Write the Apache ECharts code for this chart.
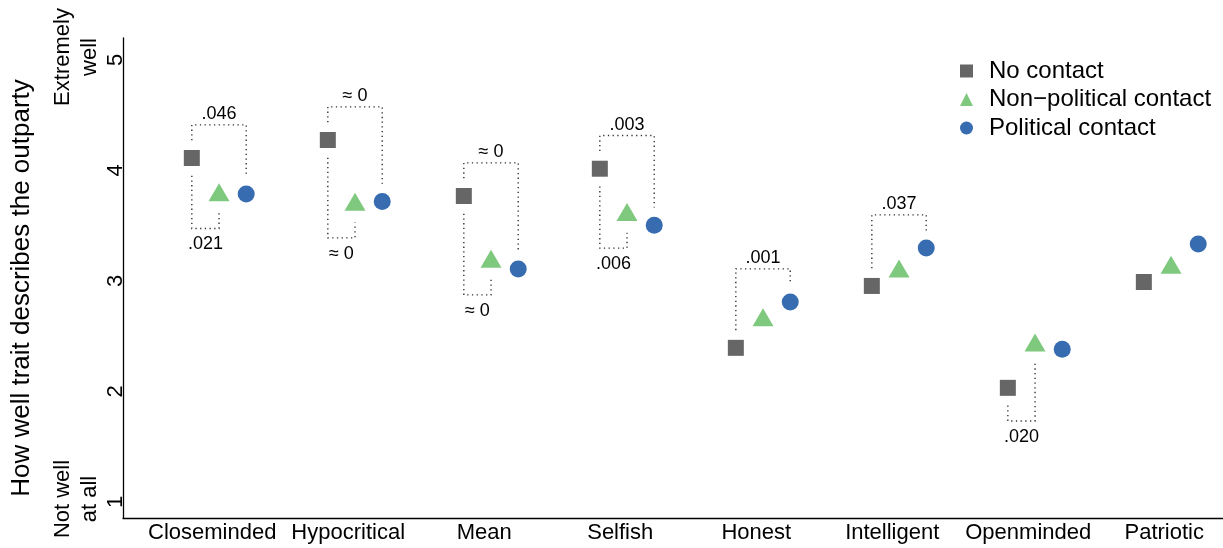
<!DOCTYPE html>
<html>
<head>
<meta charset="utf-8">
<script src="https://cdn.jsdelivr.net/npm/echarts@6/dist/echarts.min.js"></script>
<style>
  html, body { margin: 0; padding: 0; background: #ffffff; }
  #chart { width: 1223px; height: 548px; }
</style>
</head>
<body>
<div id="chart"></div>
<script>
// Mean rating of how well each trait describes the outparty, by contact condition
const traits = ['Closeminded', 'Hypocritical', 'Mean', 'Selfish', 'Honest', 'Intelligent', 'Openminded', 'Patriotic'];
const noContact    = [4.086, 4.249, 3.742, 3.989, 2.368, 2.928, 2.006, 2.964];
const nonPolitical = [3.748, 3.663, 3.147, 3.570, 2.617, 3.058, 2.388, 3.092];
const political    = [3.760, 3.692, 3.081, 3.477, 2.783, 3.271, 2.355, 3.308];
const groupNames = ['No contact', 'Non\u2212political contact', 'Political contact'];
const yTicks = [1, 2, 3, 4, 5];
const yEndTicks = [1, 5];
const yEndText = ['Not well\nat all', 'Extremely\nwell'];

// Tests against "No contact": [trait index, compared group (1 = non-political, 2 = political), side (1 above, -1 below), p-value]
const comparisons = [
  [0, 2,  1, '.046'],
  [0, 1, -1, '.021'],
  [1, 2,  1, '\u2248 0'],
  [1, 1, -1, '\u2248 0'],
  [2, 2,  1, '\u2248 0'],
  [2, 1, -1, '\u2248 0'],
  [3, 2,  1, '.003'],
  [3, 1, -1, '.006'],
  [4, 2,  1, '.001'],
  [5, 2,  1, '.037'],
  [6, 1, -1, '.020']
];

const groups = [noContact, nonPolitical, political];
const groupShift = [-0.15, 0.05, 0.25];   // horizontal dodge within a trait
const FONT = '"Liberation Sans", Arial, Helvetica, sans-serif';
const colors = ['#666666', '#7FC97F', '#386CB0'];
const symbols = ['rect', 'triangle', 'circle'];
const symbolSizes = [16, [21, 18], 17];
const symbolOffsets = [[0, 0], [0, -3], [0, 0]];

function groupPoints(g) {
  return groups[g].map((v, i) => [i + 1 + groupShift[g], v]);
}

// bracket geometry: x of the two points, end values, bracket level, direction
const bracketLift = 0.3, bracketGap = 0.16;
const bracketData = comparisons.map(([i, g, dir]) => {
  const v0 = noContact[i], v1 = groups[g][i];
  const level = dir > 0 ? Math.max(v0, v1) + bracketLift : Math.min(v0, v1) - bracketLift;
  return [i + 1 + groupShift[0], i + 1 + groupShift[g], v0 + dir * bracketGap, v1 + dir * bracketGap, level, dir];
});

const chart = echarts.init(document.getElementById('chart'), null, { renderer: 'canvas' });

const scatterSeries = groupNames.map((name, g) => ({
  name: name,
  type: 'scatter',
  data: groupPoints(g),
  symbol: symbols[g],
  symbolSize: symbolSizes[g],
  symbolOffset: symbolOffsets[g],
  itemStyle: { color: colors[g], opacity: 1 },
  emphasis: { disabled: true },
  z: 3
}));

const bracketSeries = {
  type: 'custom',
  data: bracketData,
  encode: { x: [0, 1], y: [2, 3, 4] },
  silent: true,
  z: 2,
  renderItem: function (params, api) {
    const x0 = api.value(0), x1 = api.value(1);
    const e0 = api.value(2), e1 = api.value(3), lev = api.value(4), dir = api.value(5);
    const a = api.coord([x0, e0]);
    const b = api.coord([x0, lev]);
    const c = api.coord([x1, lev]);
    const d = api.coord([x1, e1]);
    return {
      type: 'group',
      children: [
        {
          type: 'polyline',
          shape: { points: [a, b, c, d] },
          style: { stroke: '#333333', lineWidth: 1.4, lineDash: [1.3, 3.4], fill: null }
        },
        {
          type: 'text',
          x: (b[0] + c[0]) / 2,
          y: b[1] + (dir > 0 ? -10.5 : 16),
          style: {
            text: comparisons[params.dataIndex][3],
            fontSize: 18,
            fontFamily: FONT,
            fill: '#000000',
            align: 'center',
            verticalAlign: 'middle'
          }
        }
      ]
    };
  }
};

const option = {
  backgroundColor: '#ffffff',
  animation: false,
  grid: { left: 123, right: 0, top: 38, bottom: 30, containLabel: false },
  legend: {
    orient: 'vertical',
    left: 955,
    top: 54,
    itemWidth: 13,
    itemHeight: 13,
    itemGap: 4.5,
    data: groupNames,
    textStyle: { fontSize: 24, fontFamily: FONT, color: '#000000', lineHeight: 24, padding: [0, 0, 0, 11] },
    selectedMode: false
  },
  xAxis: {
    type: 'value',
    min: 0.344,
    max: 8.432,
    axisLine: { show: true, lineStyle: { color: '#000000', width: 1.3 } },
    axisTick: { show: false },
    splitLine: { show: false },
    axisLabel: {
      customValues: traits.map((t, i) => i + 1),
      formatter: v => traits[Math.round(v) - 1] || '',
      fontSize: 22,
      fontFamily: FONT,
      color: '#000000',
      margin: 4
    }
  },
  yAxis: [
    {
      type: 'value',
      min: 0.828,
      max: 5.172,
      position: 'left',
      name: 'How well trait describes the outparty',
      nameLocation: 'middle',
      nameGap: 88,
      nameTextStyle: { fontSize: 26, fontFamily: FONT, color: '#000000', padding: [0, 20, 0, 0] },
      axisLine: { show: true, lineStyle: { color: '#000000', width: 1.3 } },
      axisTick: { show: false },
      splitLine: { show: false },
      axisLabel: {
        customValues: yTicks,
        rotate: 90,
        fontSize: 22,
        fontFamily: FONT,
        color: '#000000',
        padding: [0, 6, 0, 0],
        margin: -4
      }
    },
    {
      type: 'value',
      min: 0.828,
      max: 5.172,
      position: 'left',
      offset: 0,
      axisLine: { show: false },
      axisTick: { show: false },
      splitLine: { show: false },
      axisLabel: {
        customValues: yEndTicks,
        formatter: v => yEndText[yEndTicks.indexOf(Math.round(v))] || '',
        rotate: 90,
        fontSize: 22,
        lineHeight: 27,
        align: 'center',
        fontFamily: FONT,
        color: '#000000',
        margin: 20
      }
    }
  ],
  series: [bracketSeries].concat(scatterSeries)
};

chart.setOption(option);
</script>
</body>
</html>
